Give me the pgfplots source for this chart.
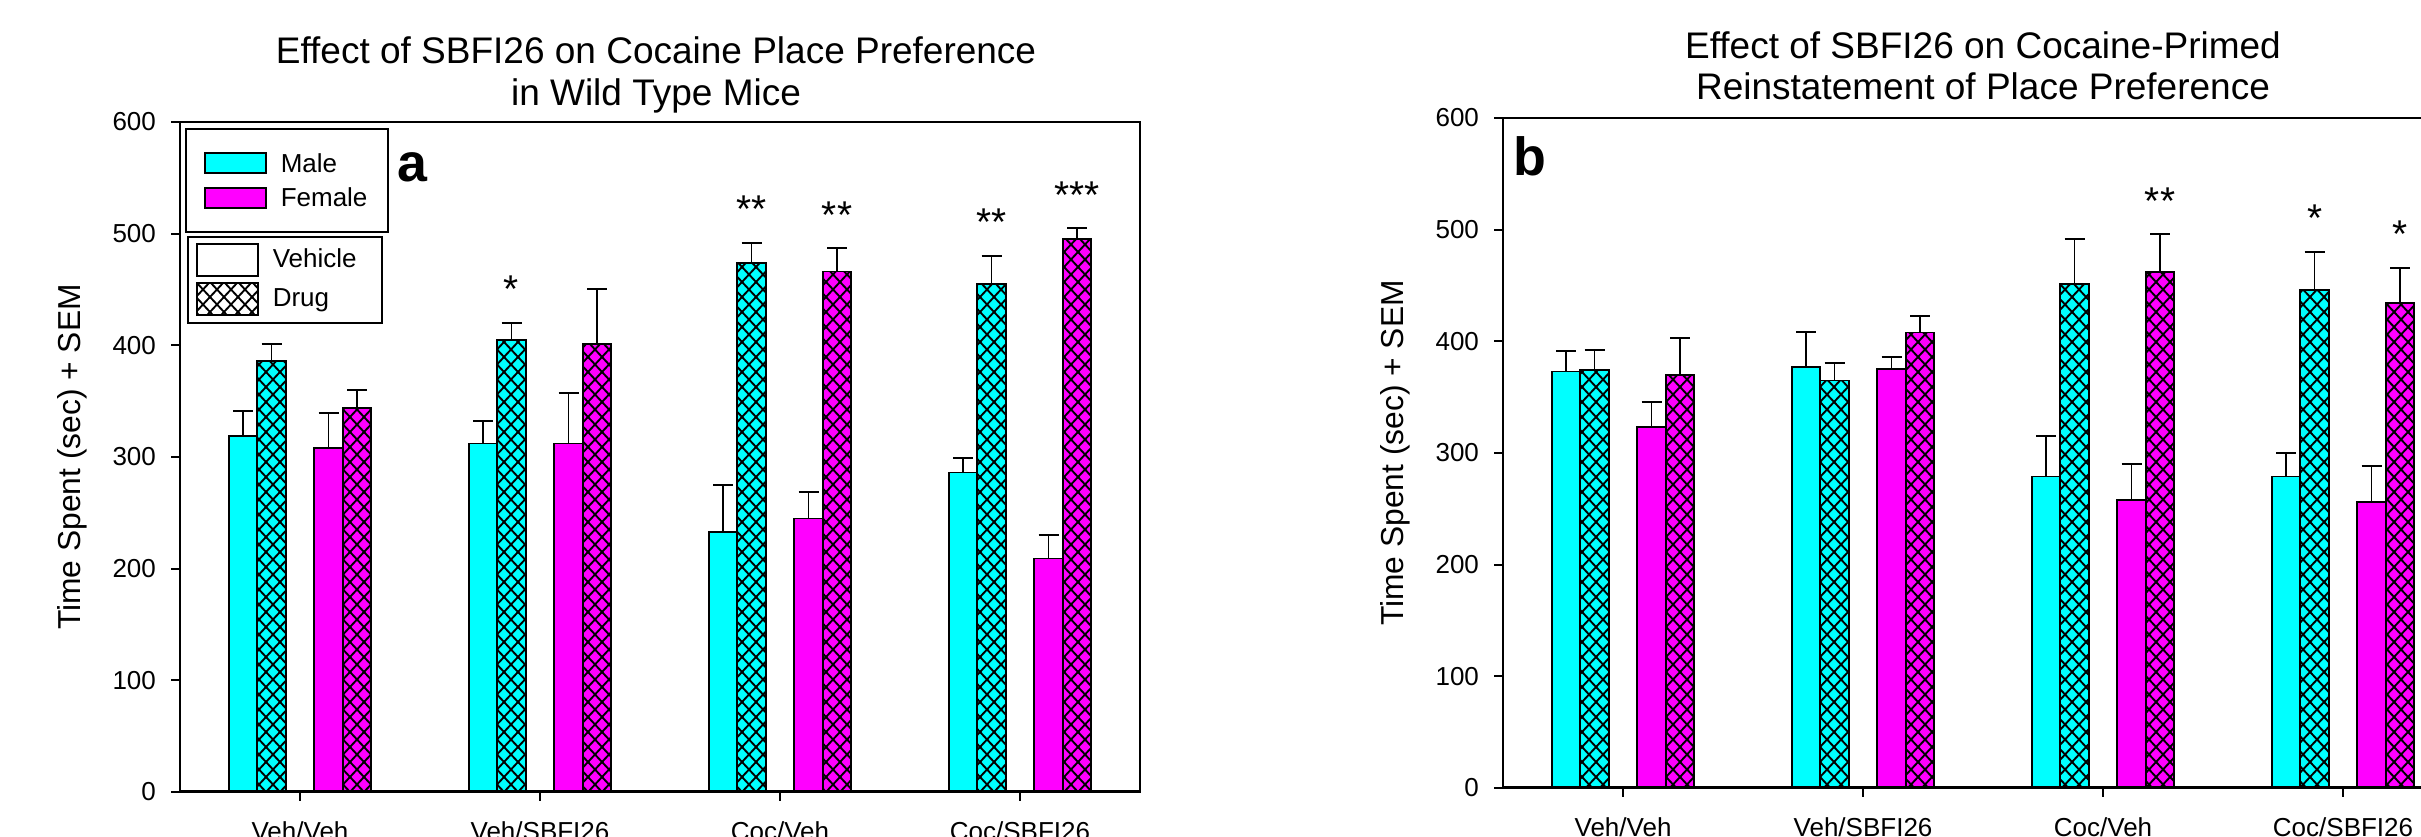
\documentclass[border=0pt]{standalone}
\usepackage{pgfplots}
\pgfplotsset{compat=1.18}
\usepackage{pgfplotstable}
\usepackage{fontspec}
\setmainfont{Liberation Sans}
\usetikzlibrary{patterns}

\definecolor{mcyan}{RGB}{0,255,255}
\definecolor{mmag}{RGB}{255,0,255}

% crossed diagonal hatch for the drug bars
\pgfdeclarepatternformonly{xhatch}{\pgfqpoint{-0.5pt}{-0.5pt}}{\pgfqpoint{6.1pt}{6.5pt}}{\pgfqpoint{5.6pt}{6pt}}{
  \pgfsetlinewidth{0.75pt}
  \pgfpathmoveto{\pgfqpoint{0pt}{0pt}}\pgfpathlineto{\pgfqpoint{5.6pt}{6pt}}
  \pgfpathmoveto{\pgfqpoint{0pt}{6pt}}\pgfpathlineto{\pgfqpoint{5.6pt}{0pt}}
  \pgfusepath{stroke}}

% mean and SEM: m = male, f = female, v = vehicle, d = drug
\pgfplotstableread{
x   mv  mve md  mde fv  fve fd  fde
0.5 319 22  386 15  308 31  344 16
1.5 312 20  405 15  312 45  401 49
2.5 233 42  474 18  245 24  466 21
3.5 286 13  455 25  209 21  495 10
}\dataA
\pgfplotstableread{
x   mv  mve md  mde fv  fve fd  fde
0.5 373 18  374 18  323 23  370 33
1.5 377 31  365 16  375 11  408 15
2.5 279 36  451 41  258 32  462 34
3.5 279 21  446 34  256 32  434 32
}\dataB

\tikzset{sig/.style={anchor=base, yshift=8pt, font=\fontsize{15.5}{17}\selectfont}}

\pgfplotsset{
  panel/.style={
    scale only axis, width=384pt, height=268pt,
    xmin=0, xmax=4, ymin=0, ymax=600,
    ytick={0,100,...,600}, xtick={0.5,1.5,2.5,3.5},
    xticklabels={Veh/Veh,Veh/SBFI26,Coc/Veh,Coc/SBFI26},
    tick align=outside, major tick length=3.6pt,
    ytick pos=left, xtick pos=bottom, minor tick num=0,
    axis line style={line width=0.8pt},
    tick style={line width=0.8pt, black},
    ticklabel style={font=\fontsize{10.4}{12}\selectfont},
    yticklabel style={xshift=-2.5pt},
    xticklabel style={yshift=-4.8pt},
    /pgf/number format/assume math mode=true,
    ylabel={Time Spent (sec) + SEM},
    ylabel style={font=\fontsize{12.7}{14}\selectfont,
      at={(axis description cs:-0.1034,0.5)}, anchor=base},
    ybar, bar width=11.4pt,
  },
  eb/.style={error bars/.cd, y dir=plus, y explicit,
    error bar style={line width=0.6pt, black},
    error mark options={rotate=90, black, line width=0.8pt, mark size=4pt}},
  plainbar/.style={fill=#1, draw=black, line width=0.7pt},
  hatchbar/.style={fill=#1, draw=black, line width=0.7pt, postaction={pattern=xhatch}},
}

\begin{document}
\begin{tikzpicture}[x=0.4pt, y=0.4pt]
\path[use as bounding box] (0,0) rectangle (2421,837);
\clip (0,0) rectangle (2421,837);

% panel a
\begin{axis}[panel, at={(72pt,18pt)}, anchor=south west]
\addplot[plainbar=mcyan, bar shift=-22.8pt, eb] table[x=x, y=mv, y error=mve] {\dataA};
\addplot[hatchbar=mcyan, bar shift=-11.4pt, eb] table[x=x, y=md, y error=mde] {\dataA};
\addplot[plainbar=mmag, bar shift=11.4pt, eb] table[x=x, y=fv, y error=fve] {\dataA};
\addplot[hatchbar=mmag, bar shift=22.8pt, eb] table[x=x, y=fd, y error=fde] {\dataA};
\draw[line width=1.4pt] (rel axis cs:0,0) -- (rel axis cs:1,0);
\node[sig] at (axis cs:1.38125,420) {*};
\node[sig] at (axis cs:2.38125,492) {**};
\node[sig] at (axis cs:2.7375,487) {**};
\node[sig] at (axis cs:3.38125,480) {**};
\node[sig] at (axis cs:3.7375,505) {***};
\end{axis}

% panel b
\begin{axis}[panel, at={(601.2pt,19.6pt)}, anchor=south west]
\addplot[plainbar=mcyan, bar shift=-22.8pt, eb] table[x=x, y=mv, y error=mve] {\dataB};
\addplot[hatchbar=mcyan, bar shift=-11.4pt, eb] table[x=x, y=md, y error=mde] {\dataB};
\addplot[plainbar=mmag, bar shift=11.4pt, eb] table[x=x, y=fv, y error=fve] {\dataB};
\addplot[hatchbar=mmag, bar shift=22.8pt, eb] table[x=x, y=fd, y error=fde] {\dataB};
\draw[line width=1.4pt] (rel axis cs:0,0) -- (rel axis cs:1,0);
\node[sig] at (axis cs:2.7375,496) {**};
\node[sig] at (axis cs:3.38125,480) {*};
\node[sig] at (axis cs:3.7375,466) {*};
\end{axis}

% titles
\begin{scope}[every node/.style={anchor=base, font=\fontsize{14.8}{16}\selectfont}]
\node at (656,773) {Effect of SBFI26 on Cocaine Place Preference};
\node at (656,731) {in Wild Type Mice};
\node at (1983,778) {Effect of SBFI26 on Cocaine-Primed};
\node at (1983,737) {Reinstatement of Place Preference};
\end{scope}

% panel letters
\node[anchor=base west, inner sep=0pt, font=\fontsize{21.5}{24}\selectfont\bfseries] at (397,655) {a};
\node[anchor=base west, inner sep=0pt, font=\fontsize{21.5}{24}\selectfont\bfseries] at (1513,661) {b};

% legends of panel a
\begin{scope}[line width=0.6pt, every node/.style={anchor=base west, inner sep=0pt, font=\fontsize{10.4}{12}\selectfont}]
\draw[fill=white] (186,605) rectangle (388,708);
\draw[fill=mcyan] (205,664) rectangle (266,684);
\draw[fill=mmag] (205,629) rectangle (266,649);
\node at (280,664) {Male};
\node at (280,630) {Female};
\draw[fill=white] (188,514) rectangle (382,600);
\draw[fill=white] (197,561) rectangle (258,593);
\draw[fill=white, postaction={pattern=xhatch}] (197,522) rectangle (258,554);
\node at (272,569) {Vehicle};
\node at (272,530) {Drug};
\end{scope}
\end{tikzpicture}
\end{document}
